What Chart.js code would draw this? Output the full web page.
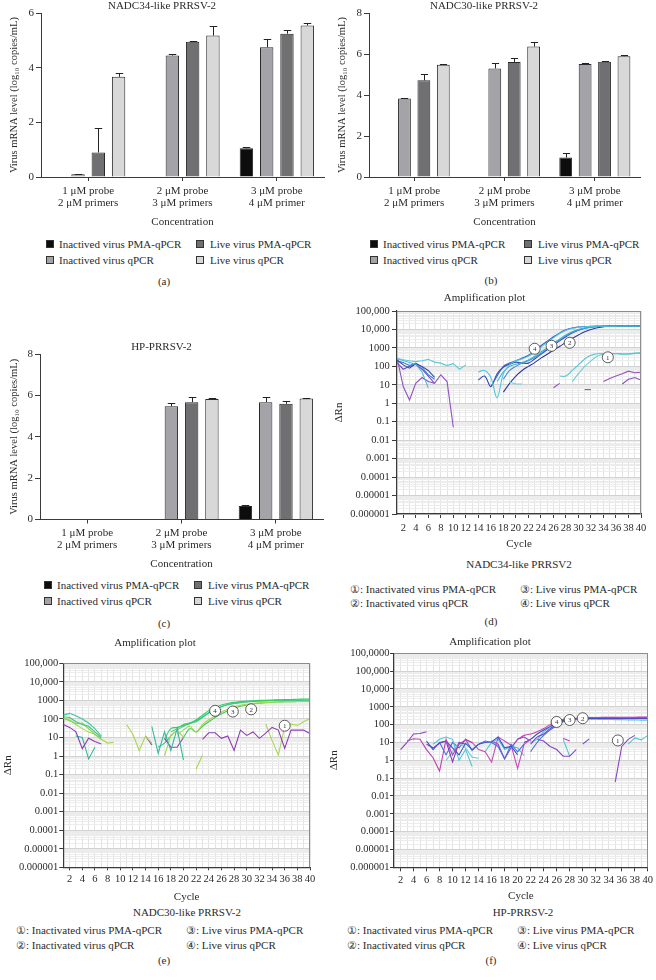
<!DOCTYPE html>
<html><head><meta charset="utf-8">
<script src="https://cdn.jsdelivr.net/npm/chart.js@4.4.0/dist/chart.umd.min.js"></script>
<style>
html,body{margin:0;padding:0;background:#fff;}
body{width:656px;height:980px;position:relative;overflow:hidden;font-family:"Liberation Serif","DejaVu Serif",serif;color:#2b2b2b;}
canvas{position:absolute;}
.t{position:absolute;font-size:11px;line-height:12px;white-space:nowrap;transform:translateY(-50%);}
.c{transform:translate(-50%,-50%);}
.sw{position:absolute;width:8px;height:8px;border:1px solid #333;box-sizing:border-box;transform:translateY(-50%);}
</style></head><body>
<canvas id="ca" width="328" height="229" style="left:0;top:0"></canvas>
<canvas id="cb" width="328" height="229" style="left:328px;top:0"></canvas>
<canvas id="cc" width="328" height="230" style="left:0;top:341px"></canvas>
<canvas id="cd" width="328" height="262" style="left:328px;top:290px"></canvas>
<canvas id="ce" width="328" height="269" style="left:0;top:635px"></canvas>
<canvas id="cf" width="328" height="269" style="left:328px;top:634px"></canvas>

<!-- legends (a) -->
<div class="sw" style="left:46px;top:244px;background:#0d0d0d"></div><div class="t" style="left:59px;top:244px">Inactived virus PMA-qPCR</div>
<div class="sw" style="left:196px;top:244px;background:#707072"></div><div class="t" style="left:210px;top:244px">Live virus PMA-qPCR</div>
<div class="sw" style="left:46px;top:260px;background:#a3a3a8"></div><div class="t" style="left:59px;top:260px">Inactived virus qPCR</div>
<div class="sw" style="left:196px;top:260px;background:#d8d8d8"></div><div class="t" style="left:210px;top:260px">Live virus qPCR</div>
<div class="t c" style="left:164px;top:281px">(a)</div>
<!-- legends (b) -->
<div class="sw" style="left:370px;top:244px;background:#0d0d0d"></div><div class="t" style="left:383px;top:244px">Inactived virus PMA-qPCR</div>
<div class="sw" style="left:524px;top:244px;background:#707072"></div><div class="t" style="left:538px;top:244px">Live virus PMA-qPCR</div>
<div class="sw" style="left:370px;top:260px;background:#a3a3a8"></div><div class="t" style="left:383px;top:260px">Inactived virus qPCR</div>
<div class="sw" style="left:524px;top:260px;background:#d8d8d8"></div><div class="t" style="left:538px;top:260px">Live virus qPCR</div>
<div class="t c" style="left:491px;top:280px">(b)</div>
<!-- legends (c) -->
<div class="sw" style="left:44px;top:585px;background:#0d0d0d"></div><div class="t" style="left:57px;top:585px">Inactived virus PMA-qPCR</div>
<div class="sw" style="left:194px;top:585px;background:#707072"></div><div class="t" style="left:208px;top:585px">Live virus PMA-qPCR</div>
<div class="sw" style="left:44px;top:601px;background:#a3a3a8"></div><div class="t" style="left:57px;top:601px">Inactived virus qPCR</div>
<div class="sw" style="left:194px;top:601px;background:#d8d8d8"></div><div class="t" style="left:208px;top:601px">Live virus qPCR</div>
<div class="t c" style="left:164px;top:623px">(c)</div>
<!-- (d) -->
<div class="t c" style="left:519px;top:563.5px">NADC34-like PRRSV2</div>
<div class="t" style="left:350px;top:588.5px">①: Inactivated virus PMA-qPCR</div>
<div class="t" style="left:520px;top:588.5px">③: Live virus PMA-qPCR</div>
<div class="t" style="left:350px;top:603px">②: Inactivated virus qPCR</div>
<div class="t" style="left:520px;top:603px">④: Live virus qPCR</div>
<div class="t c" style="left:491px;top:620.5px">(d)</div>
<!-- (e) -->
<div class="t c" style="left:187px;top:912px">NADC30-like PRRSV-2</div>
<div class="t" style="left:16px;top:930px">①: Inactivated virus PMA-qPCR</div>
<div class="t" style="left:186px;top:930px">③: Live virus PMA-qPCR</div>
<div class="t" style="left:16px;top:944.5px">②: Inactivated virus qPCR</div>
<div class="t" style="left:186px;top:944.5px">④: Live virus qPCR</div>
<div class="t c" style="left:164px;top:960px">(e)</div>
<!-- (f) -->
<div class="t c" style="left:523px;top:912px">HP-PRRSV-2</div>
<div class="t" style="left:347px;top:930px">①: Inactivated virus PMA-qPCR</div>
<div class="t" style="left:517px;top:930px">③: Live virus PMA-qPCR</div>
<div class="t" style="left:347px;top:944.5px">②: Inactivated virus qPCR</div>
<div class="t" style="left:517px;top:944.5px">④: Live virus qPCR</div>
<div class="t c" style="left:491px;top:960px">(f)</div>

<script>
const _ = null;
// ---------- bar charts ----------
const CONC_LABELS = [['1 μM probe','2 μM primers'],['2 μM probe','3 μM primers'],['3 μM probe','4 μM primer']];
const BAR_SERIES = ['Inactived virus PMA-qPCR','Inactived virus qPCR','Live virus PMA-qPCR','Live virus qPCR'];
const Y_TITLE = 'Virus mRNA level (log₁₀ copies/mL)';

// (a) NADC34-like PRRSV-2
const A_PMA_INACT  = [_, _, 1.05];
const A_QPCR_INACT = [0.1, 4.45, 4.75];
const A_PMA_LIVE   = [0.9, 4.95, 5.25];
const A_QPCR_LIVE  = [3.67, 5.18, 5.55];
const A_PMA_INACT_SD  = [_, _, 0.06];
const A_QPCR_INACT_SD = [0.01, 0.07, 0.3];
const A_PMA_LIVE_SD   = [0.88, 0.03, 0.15];
const A_QPCR_LIVE_SD  = [0.13, 0.35, 0.1];
// (b) NADC30-like PRRSV-2
const B_PMA_INACT  = [_, _, 0.95];
const B_QPCR_INACT = [3.83, 5.3, 5.52];
const B_PMA_LIVE   = [4.72, 5.62, 5.63];
const B_QPCR_LIVE  = [5.48, 6.37, 5.9];
const B_PMA_INACT_SD  = [_, _, 0.2];
const B_QPCR_INACT_SD = [0.03, 0.25, 0.03];
const B_PMA_LIVE_SD   = [0.32, 0.17, 0.04];
const B_QPCR_LIVE_SD  = [0.05, 0.22, 0.05];
// (c) HP-PRRSV-2
const C_PMA_INACT  = [_, _, 0.65];
const C_QPCR_INACT = [_, 5.48, 5.68];
const C_PMA_LIVE   = [_, 5.68, 5.6];
const C_QPCR_LIVE  = [_, 5.83, 5.85];
const C_PMA_INACT_SD  = [_, _, 0.03];
const C_QPCR_INACT_SD = [_, 0.14, 0.27];
const C_PMA_LIVE_SD   = [_, 0.27, 0.15];
const C_QPCR_LIVE_SD  = [_, 0.05, 0.05];

// ---------- amplification plots ----------
const CYCLES = [1,2,3,4,5,6,7,8,9,10,11,12,13,14,15,16,17,18,19,20,21,22,23,24,25,26,27,28,29,30,31,32,33,34,35,36,37,38,39,40];
const LOG_LABELS = ['0.000001','0.00001','0.0001','0.001','0.01','0.1','1','10','100','1000','10,000','100,000','100,0000'];
const MARK_TEXT = ['1','2','3','4'];

// (d) NADC34-like PRRSV2
const D_NOISE_CYAN_1   = [270,230,200,180,200,240,170,150,110,140, 70,120,_,_,_,_,_,_,_,_, _,_,_,_,_,_,_,_,_,_, _,_,_,_,_,_,_,_,_,_];
const D_NOISE_CYAN_2   = [250,210,160,130,50,7,_,_,_,_, _,_,_,_,_,_,_,_,_,_, _,_,_,_,_,_,_,_,_,_, _,_,_,_,_,_,_,_,_,_];
const D_NOISE_BLUE_1   = [220,120,80,140,100,60,25,_,_,_, _,_,_,_,_,_,_,_,_,_, _,_,_,_,_,_,_,_,_,_, _,_,_,_,_,_,_,_,_,_];
const D_NOISE_BLUE_2   = [200,160,110,150,90,35,20,_,_,_, _,_,_,_,_,_,_,_,_,_, _,_,_,_,_,_,_,_,_,_, _,_,_,_,_,_,_,_,_,_];
const D_NOISE_PURPLE_1 = [300,8,1.5,12,25,15,12,35,15,0.05, _,_,_,_,_,_,_,_,_,_, _,_,_,_,_,_,_,_,_,_, _,_,_,_,_,_,_,_,_,_];
const D_NOISE_PURPLE_2 = [160,70,100,130,70,30,12,_,_,_, _,_,_,_,_,_,_,_,_,_, _,_,_,_,_,_,_,_,_,_, _,_,_,_,_,_,_,_,_,_];
const D_RISE_1 = [_,_,_,_,_,_,_,_,_,_, _,_,_,50,60,25,2,40,120,200, 250,350,600,1100,2000,3500,6000,9000,11500,13000, 14000,14500,15000,15000,15000,15200,15300,15300,15400,15500];
const D_RISE_2 = [_,_,_,_,_,_,_,_,_,_, _,_,_,_,_,8,30,100,150,200, 280,400,700,1300,2300,4000,6500,9500,12000,13500, 14500,15000,15200,15300,15300,15400,15400,15500,15500,15600];
const D_RISE_3 = [_,_,_,_,_,_,_,_,_,_, _,_,_,_,_,_,15,50,100,130, 160,220,350,600,1000,1800,3000,5000,7500,10000, 12000,13500,14500,15000,15000,15000,15100,15200,15200,15300];
const D_RISE_4 = [_,_,_,_,_,_,_,_,_,_, _,_,_,_,_,_,_,20,60,100, 150,200,300,500,900,1600,2800,4500,7000,9500, 11500,13000,14000,14500,14600,14700,14800,14800,14900,15000];
const D_RISE_5 = [_,_,_,_,_,_,_,_,_,_, _,_,_,_,_,_,_,4,12,30, 60,100,160,280,450,750,1200,2000,3200,5000, 7500,10000,12500,14000,15000,15500,15800,16000,16000,16200];
const D_RISE_6 = [_,_,_,_,_,_,_,_,_,_, _,_,_,18,30,8,40,90,130,170, 150,150,250,450,800,1400,2400,4000,6500,9000, 11500,13500,14500,15000,15200,15300,15400,15500,15500,15600];
const D_SHORT_CYAN = [_,_,_,_,_,_,_,_,_,_, _,_,_,_,_,_,_,_,14,11, 11,_,_,_,_,_,_,_,_,_, _,_,_,_,_,_,_,_,_,_];
const D_LATE_CYAN_1 = [_,_,_,_,_,_,_,_,_,_, _,_,_,_,_,_,_,_,_,_, _,_,_,_,_,_,30,30,60,120, 250,400,480,500,480,500,450,480,520,550];
const D_LATE_CYAN_2 = [_,_,_,_,_,_,_,_,_,_, _,_,_,_,_,_,_,_,_,_, _,_,_,_,_,_,_,_,15,40, 100,200,350,450,500,480,500,450,500,500];
const D_LATE_PURPLE_1 = [_,_,_,_,_,_,_,_,_,_, _,_,_,_,_,_,_,_,_,_, _,_,_,_,_,_,_,_,_,_, _,_,_,15,22,30,40,55,45,48];
const D_LATE_PURPLE_2 = [_,_,_,_,_,_,_,_,_,_, _,_,_,_,_,_,_,_,_,_, _,_,_,_,_,_,_,_,_,_, _,_,_,_,_,_,11,20,25,18];
const D_DASH_PURPLE_1 = [_,_,_,_,_,_,_,_,_,_, _,_,_,_,_,_,_,_,_,_, _,_,_,_,_,7,12,_,_,_, _,_,_,_,_,_,_,_,_,_];
const D_DASH_PURPLE_2 = [_,_,_,_,_,_,_,_,_,_, _,_,_,_,_,_,_,_,_,_, _,_,_,_,_,_,_,_,_,_, 5.5,5.5,_,_,_,_,_,_,_,_];
const D_MARK_CYCLE = [34.7, 28.6, 25.7, 23.0];
const D_MARK_VALUE = [310, 1900, 1300, 900];

// (e) NADC30-like PRRSV-2
const E_NOISE_TEAL_1   = [160,200,150,100,60,30,12,_,_,_, _,_,_,_,_,_,_,_,_,_, _,_,_,_,_,_,_,_,_,_, _,_,_,_,_,_,_,_,_,_];
const E_NOISE_GREEN_1  = [130,120,70,50,40,20,10,_,_,_, _,_,_,_,_,_,_,_,_,_, _,_,_,_,_,_,_,_,_,_, _,_,_,_,_,_,_,_,_,_];
const E_NOISE_GREEN_2  = [110,80,55,60,30,15,8,_,_,_, _,_,_,_,_,_,_,_,_,_, _,_,_,_,_,_,_,_,_,_, _,_,_,_,_,_,_,_,_,_];
const E_NOISE_YG_1     = [110,90,50,30,20,15,8,5,5.5,_, _,_,_,_,_,_,_,_,_,_, _,_,_,_,_,_,_,_,_,_, _,_,_,_,_,_,_,_,_,_];
const E_NOISE_PURPLE_1 = [50,35,20,2.5,9,6,4.5,_,_,_, _,_,_,_,_,_,_,_,_,_, _,_,_,_,_,_,_,_,_,_, _,_,_,_,_,_,_,_,_,_];
const E_NOISE_TEAL_2   = [_,_,12,10,0.7,3,_,_,_,_, _,_,_,_,_,_,_,_,_,_, _,_,_,_,_,_,_,_,_,_, _,_,_,_,_,_,_,_,_,_];
const E_MID_YG_1     = [_,_,_,_,_,_,_,_,_,_, 50,15,2,12,5,_,_,_,_,_, _,_,_,_,_,_,_,_,_,_, _,_,_,_,_,_,_,_,_,_];
const E_MID_PURPLE_1 = [_,_,_,_,_,_,_,_,_,_, _,_,_,12,4,_,_,_,_,_, _,_,_,_,_,_,_,_,_,_, _,_,_,_,_,_,_,_,_,_];
const E_MID_TEAL_1   = [_,_,_,_,_,_,_,_,_,_, _,_,_,_,38,1.4,20,2,30,0.6, _,_,_,_,_,_,_,_,_,_, _,_,_,_,_,_,_,_,_,_];
const E_MID_YG_2     = [_,_,_,_,_,_,_,_,_,_, _,_,_,_,_,_,1,13,25,10, _,_,_,_,_,_,_,_,_,_, _,_,_,_,_,_,_,_,_,_];
const E_MID_PURPLE_2 = [_,_,_,_,_,_,_,_,_,_, _,_,_,_,_,_,9,3,3,10, _,_,_,_,_,_,_,_,_,_, _,_,_,_,_,_,_,_,_,_];
const E_MID_YG_3     = [_,_,_,_,_,_,_,_,_,_, _,_,_,_,_,_,_,_,_,_, _,0.2,1.1,_,_,_,_,_,_,_, _,_,_,_,_,_,_,_,_,_];
const E_RISE_1 = [_,_,_,_,_,_,_,_,_,_, _,_,_,_,_,_,8,30,35,45, 55,90,160,280,420,560,680,780,860,920, 960,1000,1020,1050,1080,1100,1120,1150,1180,1200];
const E_RISE_2 = [_,_,_,_,_,_,_,_,_,_, _,_,_,_,_,_,_,20,30,50, 60,70,120,200,320,450,580,680,760,830, 880,920,950,980,1000,1010,1020,1030,1040,1050];
const E_RISE_3 = [_,_,_,_,_,_,_,_,_,_, _,_,_,_,_,_,_,_,15,25, 40,20,50,90,150,230,330,440,540,620, 690,740,780,810,830,850,860,870,880,900];
const E_RISE_4 = [_,_,_,_,_,_,_,_,_,_, _,_,_,_,_,_,_,_,_,10, 30,20,40,70,120,190,280,380,480,570, 650,710,760,800,820,840,850,870,880,880];
const E_RISE_5 = [_,_,_,_,_,_,_,_,_,_, _,_,_,_,_,3,5,12,25,40, 60,80,130,220,340,470,600,700,780,850, 900,940,970,990,1000,1000,1010,1010,1020,1020];
const E_LATE_PURPLE = [_,_,_,_,_,_,_,_,_,_, _,_,_,_,_,_,_,_,_,_, _,_,8,18,18,9,12,2,25,13, 20,9,17,35,25,2.6,25,25,25,16];
const E_LATE_YG     = [_,_,_,_,_,_,_,_,_,_, _,_,_,_,_,_,_,_,_,_, _,_,_,_,_,_,_,_,_,_, _,_,53,7,1.1,40,53,45,70,107];
const E_MARK_CYCLE = [36.0, 30.7, 27.8, 25.0];
const E_MARK_VALUE = [43, 330, 250, 275];

// (f) HP-PRRSV-2
const F_NOISE_PURPLE_1  = [_,4,10,30,32,40,_,_,_,_, _,_,_,_,_,_,_,_,_,_, _,_,_,_,_,_,_,_,_,_, _,_,_,_,_,_,_,_,_,_];
const F_NOISE_MAGENTA_1 = [_,_,12,16,15,4,1.4,0.25,15,2, 8,14,10,_,_,_,_,_,_,_, _,_,_,_,_,_,_,_,_,_, _,_,_,_,_,_,_,_,_,_];
const F_NOISE_BLUE_1    = [_,_,_,_,_,12,4,10,12,5, 2,9,4,8,10,11,20,5,6,2, _,_,_,_,_,_,_,_,_,_, _,_,_,_,_,_,_,_,_,_];
const F_NOISE_PURPLE_2  = [_,_,_,_,_,8,5,9,12,0.8, 10,8,_,_,_,_,_,_,_,_, _,_,_,_,_,_,_,_,_,_, _,_,_,_,_,_,_,_,_,_];
const F_NOISE_CYAN_1    = [_,_,_,_,_,_,8,15,20,15, 1,4,0.45,_,_,_,_,_,_,_, _,_,_,_,_,_,_,_,_,_, _,_,_,_,_,_,_,_,_,_];
const F_NOISE_CYAN_2    = [_,_,_,_,_,_,_,_,1,3, 10,5,1.5,1.3,_,_,_,_,_,_, _,_,_,_,_,_,_,_,_,_, _,_,_,_,_,_,_,_,_,_];
const F_NOISE_BLUE_2    = [_,_,_,_,_,_,_,10,2,10, 5,15,3.5,8,12,10,6,1.2,8,3, 8,_,_,_,_,_,_,_,_,_, _,_,_,_,_,_,_,_,_,_];
const F_NOISE_MAGENTA_2 = [_,_,_,_,_,_,_,_,_,_, _,15,10,4,3,0.8,20,12,7,0.35, 8,15,_,_,_,_,_,_,_,_, _,_,_,_,_,_,_,_,_,_];
const F_NOISE_CYAN_3    = [_,_,_,_,_,_,_,_,_,_, _,_,_,_,3,10,15,4,6,5, 1.8,_,_,_,_,_,_,_,_,_, _,_,_,_,_,_,_,_,_,_];
const F_NOISE_PURPLE_3  = [_,_,_,_,_,_,_,_,_,_, _,_,_,_,_,12,8,1.2,5,15, 20,12,_,_,_,_,_,_,_,_, _,_,_,_,_,_,_,_,_,_];
const F_RISE_MAGENTA = [_,_,_,_,_,_,_,_,_,_, _,_,_,_,_,_,_,_,_,15, 25,30,40,60,100,150,200,220,230,240, 250,250,255,255,255,260,260,260,265,265];
const F_RISE_BLUE    = [_,_,_,_,_,_,_,_,_,_, _,_,_,_,_,_,_,_,_,_, 10,15,30,50,80,130,180,210,220,225, 230,230,230,235,235,235,235,240,240,240];
const F_RISE_PURPLE  = [_,_,_,_,_,_,_,_,_,_, _,_,_,_,_,_,_,_,_,_, _,8,20,30,60,100,160,200,210,215, 220,220,220,220,225,225,225,225,225,225];
const F_RISE_CYAN    = [_,_,_,_,_,_,_,_,_,_, _,_,_,_,_,_,_,_,_,_, _,10,15,40,70,120,170,190,200,200, 200,200,195,195,190,190,185,185,180,180];
const F_RISE_BLUE_2  = [_,_,_,_,_,_,_,_,_,_, _,_,_,_,_,_,_,_,_,_, _,3,10,25,50,90,150,190,210,215, 215,218,220,220,220,220,222,222,222,222];
const F_DASH_PURPLE    = [_,_,_,_,_,_,_,_,_,_, _,_,_,_,_,_,_,_,_,_, _,_,15,12,6,4,1.7,1.7,4,_, _,_,_,_,_,_,_,_,_,_];
const F_DASH_CYAN      = [_,_,_,_,_,_,_,_,_,_, _,_,_,_,_,_,_,_,_,_, _,_,_,_,_,_,15,1.7,_,_, _,_,_,_,_,_,_,_,_,_];
const F_DASH_MAGENTA_1 = [_,_,_,_,_,_,_,_,_,_, _,_,_,_,_,_,_,_,_,_, _,_,_,_,_,_,17,12,_,_, _,_,_,_,_,_,_,_,_,_];
const F_DASH_MAGENTA_2 = [_,_,_,_,_,_,_,_,_,_, _,_,_,_,_,_,_,_,_,_, _,_,_,_,_,_,_,_,_,8, 16,_,_,_,_,_,_,_,_,_];
const F_LATE_PURPLE    = [_,_,_,_,_,_,_,_,_,_, _,_,_,_,_,_,_,_,_,_, _,_,_,_,_,_,_,_,_,_, _,_,_,_,0.06,6,15,25,_,_];
const F_LATE_CYAN      = [_,_,_,_,_,_,_,_,_,_, _,_,_,_,_,_,_,_,_,_, _,_,_,_,_,_,_,_,_,_, _,_,_,_,_,_,8,18,14,25];
const F_MARK_CYCLE = [35.4, 30.0, 28.0, 26.0];
const F_MARK_VALUE = [13, 228, 182, 141];

// ---------- styling ----------
const SERIF = '"Liberation Serif","DejaVu Serif",serif';
const TXT = '#2b2b2b';
const AX = '#3a3a3a';
const BAR_COLORS = ['#0d0d0d','#a3a3a8','#707072','#d8d8d8'];

const errorBarPlugin = {
  id: 'errorBars',
  afterDatasetsDraw(chart) {
    const ctx = chart.ctx, y = chart.scales.y;
    ctx.save(); ctx.strokeStyle = '#222'; ctx.lineWidth = 1;
    chart.data.datasets.forEach((ds, di) => {
      const meta = chart.getDatasetMeta(di);
      meta.data.forEach((bar, i) => {
        const v = ds.data[i], s = ds.sd[i];
        if (v == null || s == null) return;
        const yt = Math.round(y.getPixelForValue(v + s)) + 0.5;
        const x = Math.round(bar.x) + 0.5, half = bar.width * 0.28;
        ctx.beginPath();
        ctx.moveTo(x, bar.y); ctx.lineTo(x, yt);
        ctx.moveTo(x - half, yt); ctx.lineTo(x + half, yt);
        ctx.stroke();
      });
    });
    ctx.restore();
  }
};

function barChart(id, title, yMax, vals, sds, plotLeft, padRight, xPad, xHeight) {
  return new Chart(document.getElementById(id), {
    type: 'bar',
    data: {
      labels: CONC_LABELS,
      datasets: BAR_SERIES.map((name, k) => ({
        label: name, data: vals[k], sd: sds[k], backgroundColor: BAR_COLORS[k],
        borderColor: '#2a2a2a', borderWidth: 1, categoryPercentage: 0.86, barPercentage: 0.66
      }))
    },
    options: {
      responsive: false, animation: false,
      layout: {padding: {top: 0, left: 0, bottom: 0, right: padRight}},
      plugins: {
        legend: {display: false}, tooltip: {enabled: false},
        title: {display: true, text: title, font: {family: SERIF, size: 11, weight: 'normal', lineHeight: 1.2}, color: TXT, padding: {top: 0, bottom: 0}}
      },
      scales: {
        x: {
          grid: {display: true, drawOnChartArea: false, offset: false, tickLength: 4, color: AX},
          border: {color: AX, width: 1},
          ticks: {font: {family: SERIF, size: 11, lineHeight: 1.12}, color: TXT, padding: xPad, maxRotation: 0, autoSkip: false},
          title: {display: true, text: 'Concentration', font: {family: SERIF, size: 11, lineHeight: 1.2}, color: TXT, padding: {top: 0, bottom: 0}},
          afterFit: s => { s.height = xHeight; }
        },
        y: {
          min: 0, max: yMax,
          ticks: {stepSize: 2, font: {family: SERIF, size: 11}, color: TXT, padding: 2},
          grid: {display: true, drawOnChartArea: false, tickLength: 5, color: AX},
          border: {color: AX, width: 1},
          title: {display: true, text: Y_TITLE, font: {family: SERIF, size: 10.5}, color: TXT, padding: {top: 8, bottom: 0}},
          afterFit: s => { s.width = plotLeft; }
        }
      }
    },
    plugins: [errorBarPlugin]
  });
}

barChart('ca', 'NADC34-like PRRSV-2', 6,
  [A_PMA_INACT, A_QPCR_INACT, A_PMA_LIVE, A_QPCR_LIVE],
  [A_PMA_INACT_SD, A_QPCR_INACT_SD, A_PMA_LIVE_SD, A_QPCR_LIVE_SD], 41, 4, 4, 52);
barChart('cb', 'NADC30-like PRRSV-2', 8,
  [B_PMA_INACT, B_QPCR_INACT, B_PMA_LIVE, B_QPCR_LIVE],
  [B_PMA_INACT_SD, B_QPCR_INACT_SD, B_PMA_LIVE_SD, B_QPCR_LIVE_SD], 41, 16, 4, 52);
barChart('cc', 'HP-PRRSV-2', 8,
  [C_PMA_INACT, C_QPCR_INACT, C_PMA_LIVE, C_QPCR_LIVE],
  [C_PMA_INACT_SD, C_QPCR_INACT_SD, C_PMA_LIVE_SD, C_QPCR_LIVE_SD], 40, 5, 3, 51.5);

// ---------- amplification helpers ----------
function isPow10(v) { const e = Math.log10(v); return Math.abs(e - Math.round(e)) < 1e-6; }
function decadeTicks(minExp, maxExp) {
  const t = [];
  for (let e = minExp; e < maxExp; e++) for (let m = 1; m < 10; m++) t.push({value: m * Math.pow(10, e)});
  t.push({value: Math.pow(10, maxExp)});
  return t;
}
function toXY(arr) { return arr.map((v, i) => ({x: CYCLES[i], y: v})); }

const framePlugin = {
  id: 'frame',
  afterDraw(chart) {
    const {ctx, chartArea: a} = chart;
    ctx.save(); ctx.strokeStyle = '#8c8c8c'; ctx.lineWidth = 1;
    ctx.beginPath();
    ctx.moveTo(a.left, Math.round(a.top) + 0.5); ctx.lineTo(a.right, Math.round(a.top) + 0.5);
    ctx.moveTo(Math.round(a.right) - 0.5, a.top); ctx.lineTo(Math.round(a.right) - 0.5, a.bottom);
    ctx.stroke(); ctx.restore();
  }
};
const marksPlugin = {
  id: 'marks',
  afterDatasetsDraw(chart, args, opts) {
    const ctx = chart.ctx, xs = chart.scales.x, ys = chart.scales.y;
    ctx.save();
    opts.cycles.forEach((c, i) => {
      const px = xs.getPixelForValue(c), py = ys.getPixelForValue(opts.values[i]);
      ctx.beginPath(); ctx.arc(px, py, 5.5, 0, Math.PI * 2);
      ctx.fillStyle = '#fff'; ctx.fill();
      ctx.strokeStyle = '#333'; ctx.lineWidth = 0.8; ctx.stroke();
      ctx.fillStyle = '#333'; ctx.font = '7px ' + SERIF;
      ctx.textAlign = 'center'; ctx.textBaseline = 'middle';
      ctx.fillText(MARK_TEXT[i], px, py + 0.5);
    });
    ctx.restore();
  }
};

function ampChart(id, cfg) {
  const fT = {family: SERIF, size: 10.5};
  return new Chart(document.getElementById(id), {
    type: 'line',
    data: {datasets: cfg.series.map(s => ({
      data: toXY(s[0]), borderColor: s[1], borderWidth: 1.1, pointRadius: 0,
      tension: s[2] ? 0.35 : 0, spanGaps: false, fill: false
    }))},
    options: {
      responsive: false, animation: false,
      layout: {padding: {top: 0, left: 0, bottom: 0, right: cfg.padRight}},
      plugins: {
        legend: {display: false}, tooltip: {enabled: false},
        title: {display: true, text: 'Amplification plot', font: {family: SERIF, size: 11, weight: 'normal'}, color: TXT, padding: {top: cfg.tp1, bottom: cfg.tp2}},
        marks: {cycles: cfg.markX, values: cfg.markY}
      },
      scales: {
        x: {
          type: 'linear', min: 1, max: 40,
          ticks: {stepSize: 1, autoSkip: false, maxRotation: 0, padding: cfg.xPad, font: fT, color: TXT,
                  callback: v => (v % 2 === 0 ? String(v) : '')},
          grid: {color: '#e3e3e3', tickLength: cfg.xTick,
                 tickColor: c => (c.tick && c.tick.value % 2 === 0) ? AX : 'rgba(0,0,0,0)'},
          border: {color: AX, width: 1.2},
          title: {display: true, text: 'Cycle', font: {family: SERIF, size: 11}, color: TXT, padding: {top: 0, bottom: cfg.cyclePad}},
          afterFit: s => { s.height = cfg.xHeight; }
        },
        y: {
          type: 'logarithmic', min: 1e-6, max: Math.pow(10, cfg.maxExp),
          afterBuildTicks: s => { s.ticks = decadeTicks(-6, cfg.maxExp); },
          ticks: {autoSkip: false, padding: cfg.yPad, font: fT, color: TXT,
                  callback: v => { if (!isPow10(v)) return ''; return LOG_LABELS[Math.round(Math.log10(v)) + 6]; }},
          grid: {color: c => (c.tick && isPow10(c.tick.value)) ? '#d2d2d2' : '#ececec', tickLength: cfg.yTick,
                 tickColor: c => (c.tick && isPow10(c.tick.value)) ? AX : 'rgba(0,0,0,0)'},
          border: {color: AX, width: 1.2},
          title: {display: true, text: 'ΔRn', font: {family: SERIF, size: 11}, color: TXT, padding: {top: cfg.rnPad, bottom: 0}},
          afterFit: s => { s.width = cfg.yWidth; }
        }
      }
    },
    plugins: [framePlugin, marksPlugin]
  });
}

// (d)
ampChart('cd', {
  padRight: 15, tp1: 1.7, tp2: 6.1, xPad: 4, xTick: 4, cyclePad: 1, xHeight: 38,
  maxExp: 5, yPad: 2.3, yTick: 5, rnPad: 5, yWidth: 69,
  markX: D_MARK_CYCLE, markY: D_MARK_VALUE,
  series: [
    [D_NOISE_CYAN_1, '#5cc9da'], [D_NOISE_CYAN_2, '#47bcd2'], [D_NOISE_BLUE_1, '#3549b4'],
    [D_NOISE_BLUE_2, '#3f86d4'], [D_NOISE_PURPLE_1, '#8e52c0'], [D_NOISE_PURPLE_2, '#6f4cba'],
    [D_SHORT_CYAN, '#6fd0d8'],
    [D_RISE_1, '#4fc6da', 1], [D_RISE_2, '#3a5cc8', 1], [D_RISE_3, '#3bb4d0', 1],
    [D_RISE_4, '#3f8ed8', 1], [D_RISE_5, '#2d379c', 1], [D_RISE_6, '#3548b2', 1],
    [D_LATE_CYAN_1, '#52c4d6', 1], [D_LATE_CYAN_2, '#6ad0d8', 1],
    [D_LATE_PURPLE_1, '#9552c2'], [D_LATE_PURPLE_2, '#8a4fbf'],
    [D_DASH_PURPLE_1, '#9552c2'], [D_DASH_PURPLE_2, '#8a4fbf']
  ]
});
// (e)
ampChart('ce', {
  padRight: 18, tp1: 1.4, tp2: 13.7, xPad: 3, xTick: 3, cyclePad: 0.7, xHeight: 36.7,
  maxExp: 5, yPad: 1, yTick: 4, rnPad: 1.4, yWidth: 63.3,
  markX: E_MARK_CYCLE, markY: E_MARK_VALUE,
  series: [
    [E_NOISE_TEAL_1, '#3fc2a0'], [E_NOISE_GREEN_1, '#34c96c'], [E_NOISE_GREEN_2, '#7fd35a'],
    [E_NOISE_YG_1, '#a8d84c'], [E_NOISE_PURPLE_1, '#8e3cb5'], [E_NOISE_TEAL_2, '#2fb79a'],
    [E_MID_YG_1, '#a8d84c'], [E_MID_PURPLE_1, '#8e3cb5'], [E_MID_TEAL_1, '#33b99c'],
    [E_MID_YG_2, '#a8d84c'], [E_MID_PURPLE_2, '#8e3cb5'], [E_MID_YG_3, '#a8d84c'],
    [E_RISE_1, '#2fd06a', 1], [E_RISE_2, '#46c97a', 1], [E_RISE_3, '#a5d84a', 1],
    [E_RISE_4, '#3cc95f', 1], [E_RISE_5, '#38c08c', 1],
    [E_LATE_PURPLE, '#8e3cb5'], [E_LATE_YG, '#a8d84c']
  ]
});
// (f)
ampChart('cf', {
  padRight: 4, tp1: 1.1, tp2: 5, xPad: 3, xTick: 4, cyclePad: 0.4, xHeight: 35.7,
  maxExp: 6, yPad: 0.5, yTick: 4, rnPad: 0, yWidth: 66,
  markX: F_MARK_CYCLE, markY: F_MARK_VALUE,
  series: [
    [F_NOISE_PURPLE_1, '#8a44c4'], [F_NOISE_MAGENTA_1, '#c03fb6'], [F_NOISE_BLUE_1, '#3a56c8'],
    [F_NOISE_PURPLE_2, '#7b3fc2'], [F_NOISE_CYAN_1, '#4ec6d6'], [F_NOISE_CYAN_2, '#6ccfdc'],
    [F_NOISE_BLUE_2, '#4a6fe0'], [F_NOISE_MAGENTA_2, '#c94ab8'], [F_NOISE_CYAN_3, '#4ec6d6'],
    [F_NOISE_PURPLE_3, '#8a44c4'],
    [F_RISE_MAGENTA, '#cc3fb4', 1], [F_RISE_BLUE, '#3651c4', 1], [F_RISE_PURPLE, '#7b3fc2', 1],
    [F_RISE_CYAN, '#4ec6d6', 1], [F_RISE_BLUE_2, '#4a6fe0', 1],
    [F_DASH_PURPLE, '#8a44c4'], [F_DASH_CYAN, '#4ec6d6'], [F_DASH_MAGENTA_1, '#c03fb6'],
    [F_DASH_MAGENTA_2, '#7b3fc2'], [F_LATE_PURPLE, '#8a44c4'], [F_LATE_CYAN, '#4ec6d6']
  ]
});
</script>
</body></html>
